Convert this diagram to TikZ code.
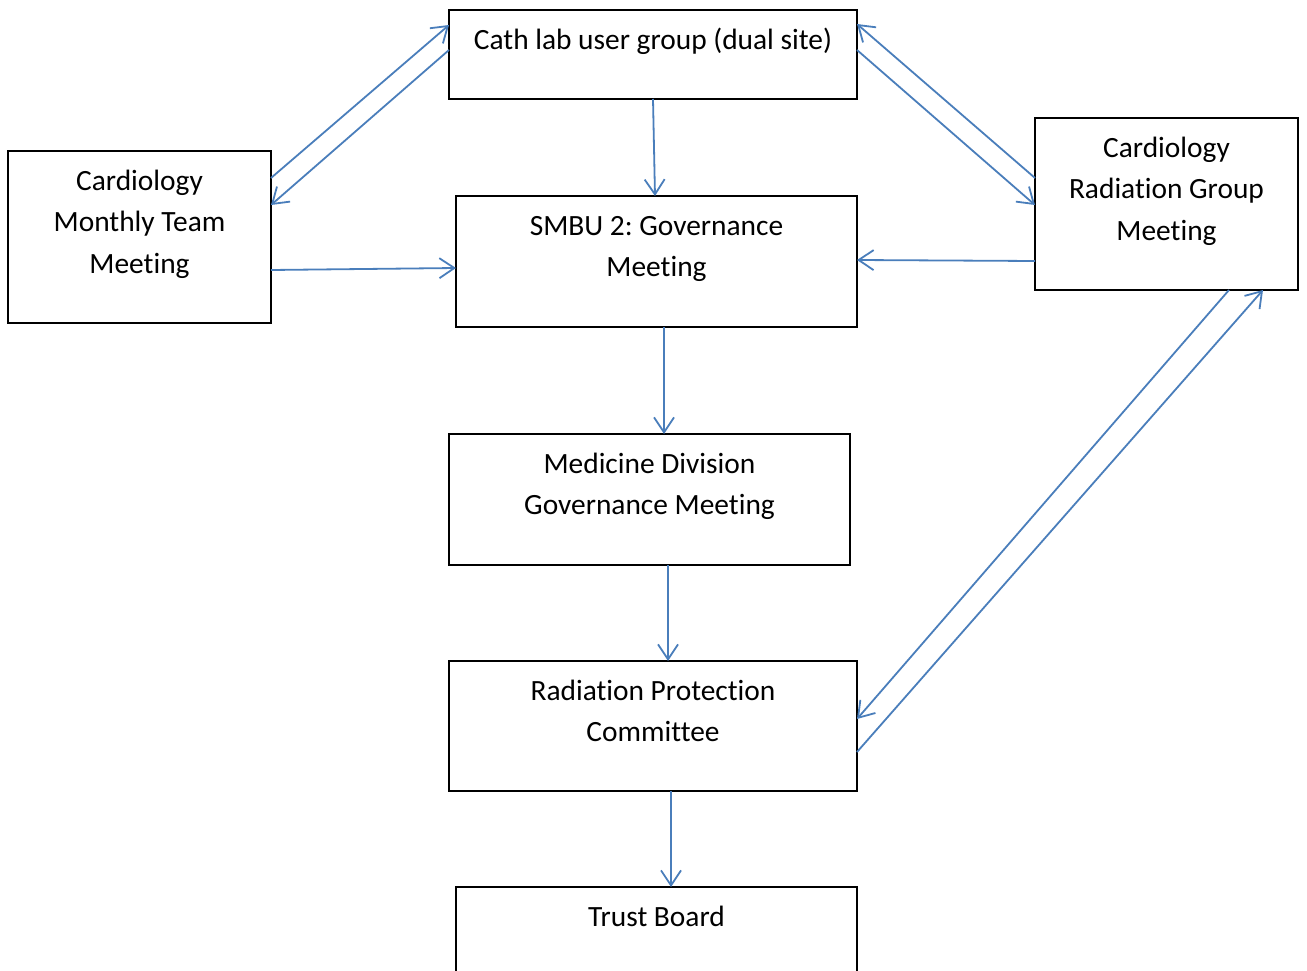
\documentclass[tikz,border=0pt]{standalone}
\usepackage{fontspec}
\setmainfont{Carlito}[Ligatures=NoCommon]
\usetikzlibrary{arrows.meta}
\definecolor{arrowblue}{RGB}{74,126,187}
\frenchspacing
\tikzset{
  box/.style={draw=black, line width=2pt, rectangle, inner sep=0pt, outer sep=0pt, anchor=north west},
  txt/.style={align=center, inner sep=0pt, anchor=north, font=\fontsize{29.4}{41.2}\selectfont},
  conn/.style={draw=arrowblue, line width=1.8pt, -{Straight Barb[length=15pt,width=20pt,line width=1.8pt]}}
}
\begin{document}
\begin{tikzpicture}[x=1pt,y=-1pt]
\clip (0,0) rectangle (1307,971);
\useasboundingbox (0,0) rectangle (1307,971);
% boxes
\node[box, minimum width=408, minimum height=89] (cath) at (449,10) {};
\node[box, minimum width=263, minimum height=172] (cmtm) at (8,151) {};
\node[box, minimum width=401, minimum height=131] (smbu) at (456,196) {};
\node[box, minimum width=263, minimum height=172] (crg) at (1035,118) {};
\node[box, minimum width=401, minimum height=131] (med) at (449,434) {};
\node[box, minimum width=408, minimum height=130] (rpc) at (449,661) {};
\node[box, minimum width=401, minimum height=130] (tb) at (456,887) {};
% texts
\node[txt] (cath-t) at ([yshift=-10.6pt]cath.north) {\strut Cath lab user group (dual site)};
\node[txt] (cmtm-t) at ([yshift=-10.6pt]cmtm.north) {\strut Cardiology\\Monthly Team\\Meeting};
\node[txt] (smbu-t) at ([yshift=-10.6pt]smbu.north) {\strut SMBU 2: Governance\\Meeting};
\node[txt] (crg-t) at ([yshift=-10.6pt]crg.north) {\strut Cardiology\\Radiation Group\\Meeting};
\node[txt] (med-t) at ([yshift=-10.6pt]med.north) {\strut Medicine Division\\Governance Meeting};
\node[txt] (rpc-t) at ([yshift=-10.6pt]rpc.north) {\strut Radiation Protection\\Committee};
\node[txt] (tb-t) at ([yshift=-10.6pt]tb.north) {\strut Trust Board};
% connectors
\draw[conn] ([yshift=-27pt]cmtm.north east) -- ([yshift=-15pt]cath.north west);
\draw[conn] ([yshift=-40pt]cath.north west) -- ([yshift=-54pt]cmtm.north east);
\draw[conn] ([yshift=-40pt]cath.north east) -- ([yshift=-87pt]crg.north west);
\draw[conn] ([yshift=-60pt]crg.north west) -- ([yshift=-14pt]cath.north east);
\draw[conn] ([yshift=-143pt]crg.north west) -- ([yshift=-64pt]smbu.north east);
\draw[conn] ([yshift=-119pt]cmtm.north east) -- ([yshift=-72pt]smbu.north west);
\draw[conn] ([xshift=204pt]cath.south west) -- ([xshift=199pt]smbu.north west);
\draw[conn] ([xshift=208pt]smbu.south west) -- ([xshift=215pt]med.north west);
\draw[conn] ([xshift=219pt]med.south west) -- ([xshift=219pt]rpc.north west);
\draw[conn] ([xshift=222pt]rpc.south west) -- ([xshift=215pt]tb.north west);
\draw[conn] ([xshift=194pt]crg.south west) -- ([yshift=-58pt]rpc.north east);
\draw[conn] ([yshift=-91pt]rpc.north east) -- ([xshift=228pt]crg.south west);
\end{tikzpicture}
\end{document}
